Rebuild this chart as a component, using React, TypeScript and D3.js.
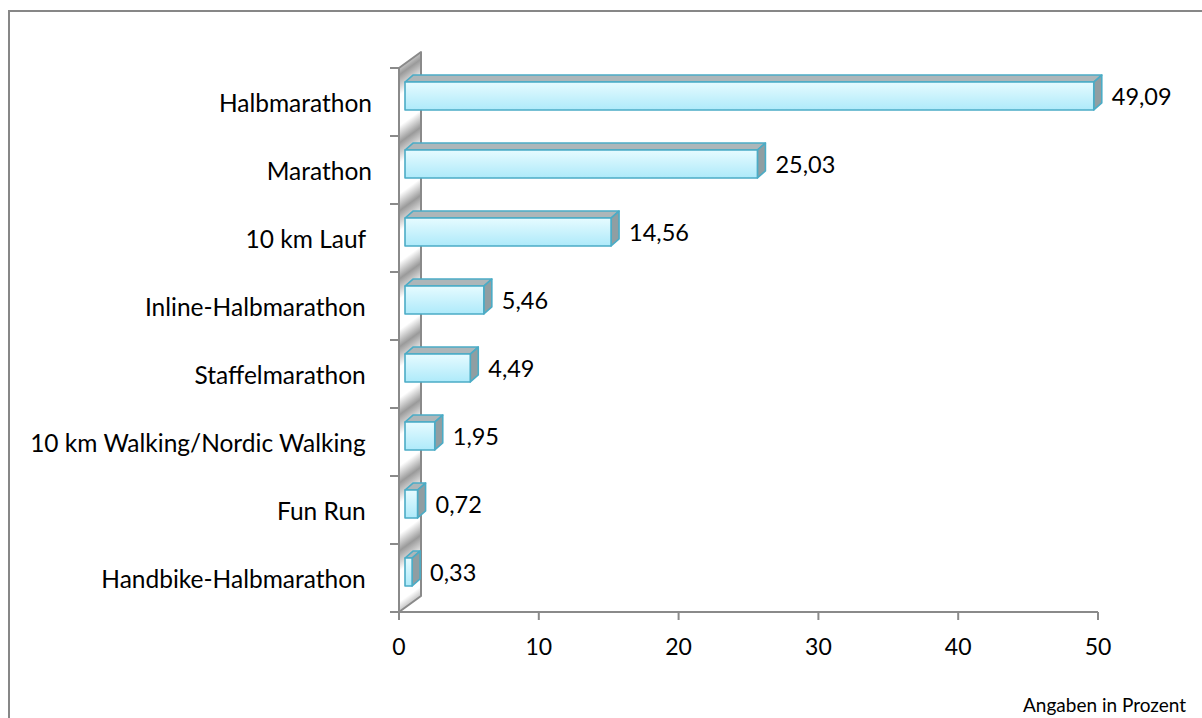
import React from 'react';
import * as d3 from 'd3';

// Teilnehmer nach Wettbewerb (Angaben in Prozent)
const categories = [
  'Halbmarathon',
  'Marathon',
  '10 km Lauf ',
  'Inline-Halbmarathon ',
  'Staffelmarathon ',
  '10 km Walking/Nordic Walking ',
  'Fun Run ',
  'Handbike-Halbmarathon ',
];
const values = [49.09, 25.03, 14.56, 5.46, 4.49, 1.95, 0.72, 0.33];
const xTicks = [0, 10, 20, 30, 40, 50];
const unitNote = 'Angaben in Prozent';

const W = 1202;
const H = 718;
const plot = { left: 399, right: 1098, top: 68, bottom: 612 };
const wallDepth = { dx: 22, dy: -16 };
const barShift = { dx: 6, dy: -6 }; // bars sit a little into the depth
const barDepth = { dx: 8, dy: -7 };
const font = 'Lato, "Open Sans", sans-serif';

const fmt = d3.formatLocale({
  decimal: ',',
  thousands: '.',
  grouping: [3],
  currency: ['', ' €'],
}).format('.2f');

export default function App() {
  const x = d3.scaleLinear().domain([0, 50]).range([plot.left, plot.right]);
  const y = d3
    .scaleBand<string>()
    .domain(categories)
    .range([plot.top, plot.bottom])
    .paddingInner(0.59)
    .paddingOuter(0.295);
  const bh = y.bandwidth();
  const bounds = d3.range(categories.length + 1).map((i) => plot.top + i * y.step());

  const wall = [
    [plot.left, plot.top],
    [plot.left + wallDepth.dx, plot.top + wallDepth.dy],
    [plot.left + wallDepth.dx, plot.bottom + wallDepth.dy],
    [plot.left, plot.bottom],
  ];

  return (
    <svg
      width={W}
      height={H}
      style={{ position: 'absolute', left: 0, top: 0, display: 'block', background: '#fff' }}
    >
      <defs>
        <linearGradient
          id="wallFill"
          gradientUnits="userSpaceOnUse"
          x1={0}
          y1={25}
          x2={0}
          y2={93}
          spreadMethod="repeat"
          gradientTransform="skewY(-36)"
        >
          <stop offset="0" stopColor="#9a9a9a" />
          <stop offset="0.3" stopColor="#ffffff" />
          <stop offset="0.75" stopColor="#ffffff" />
          <stop offset="1" stopColor="#9a9a9a" />
        </linearGradient>
        <linearGradient id="barFront" x1="0" y1="0" x2="0" y2="1">
          <stop offset="0" stopColor="#e6fbff" />
          <stop offset="1" stopColor="#aeeafa" />
        </linearGradient>
      </defs>

      <rect x={9} y={11} width={1200} height={720} fill="none" stroke="#878787" strokeWidth={2} />

      {/* side wall */}
      <polygon
        points={wall.map((p) => p.join(',')).join(' ')}
        fill="url(#wallFill)"
        stroke="#8a8a8a"
        strokeWidth={2}
        strokeLinejoin="round"
      />

      {/* category ticks */}
      {bounds.map((b, i) => (
        <line key={i} x1={plot.left - 9} x2={plot.left} y1={b} y2={b} stroke="#8a8a8a" strokeWidth={2} />
      ))}

      {/* x axis */}
      <line x1={plot.left - 9} x2={plot.right} y1={plot.bottom} y2={plot.bottom} stroke="#8a8a8a" strokeWidth={2} />
      {xTicks.map((t) => (
        <g key={t} transform={`translate(${x(t)},${plot.bottom})`}>
          <line y1={0} y2={8} stroke="#8a8a8a" strokeWidth={2} />
          <text y={43} textAnchor="middle" fontFamily={font} fontSize={23} fill="#000">
            {t}
          </text>
        </g>
      ))}

      {/* bars */}
      {categories.map((c, i) => {
        const x0 = x(0) + barShift.dx;
        const x1 = x(values[i]) + barShift.dx + 2.5;
        const yT = (y(c) as number) + barShift.dy;
        const yB = yT + bh;
        const { dx, dy } = barDepth;
        const top = [[x0, yT], [x0 + dx, yT + dy], [x1 + dx, yT + dy], [x1, yT]];
        const side = [[x1, yT], [x1 + dx, yT + dy], [x1 + dx, yB + dy], [x1, yB]];
        const pts = (a: number[][]) => a.map((p) => p.join(',')).join(' ');
        return (
          <g key={c} stroke="#4bacc6" strokeWidth={1.6} strokeLinejoin="round">
            <polygon points={pts(top)} fill="#adb6b9" />
            <polygon points={pts(side)} fill="#909ea2" />
            <rect x={x0} y={yT} width={x1 - x0} height={bh} fill="url(#barFront)" />
            <text
              x={x1 + dx + 10}
              y={(yT + yB) / 2 + 8.5}
              fontFamily={font}
              fontSize={23.5}
              fill="#000"
              stroke="none"
            >
              {fmt(values[i])}
            </text>
          </g>
        );
      })}

      {/* category labels */}
      {categories.map((c) => (
        <text
          key={c}
          x={372}
          y={(y(c) as number) + bh / 2 + 10}
          textAnchor="end"
          fontFamily={font}
          fontSize={24.5}
          fill="#000"
          style={{ whiteSpace: 'pre' }}
        >
          {c}
        </text>
      ))}

      <text x={1186} y={712} textAnchor="end" fontFamily={font} fontSize={19} fill="#000">
        {unitNote}
      </text>
    </svg>
  );
}
